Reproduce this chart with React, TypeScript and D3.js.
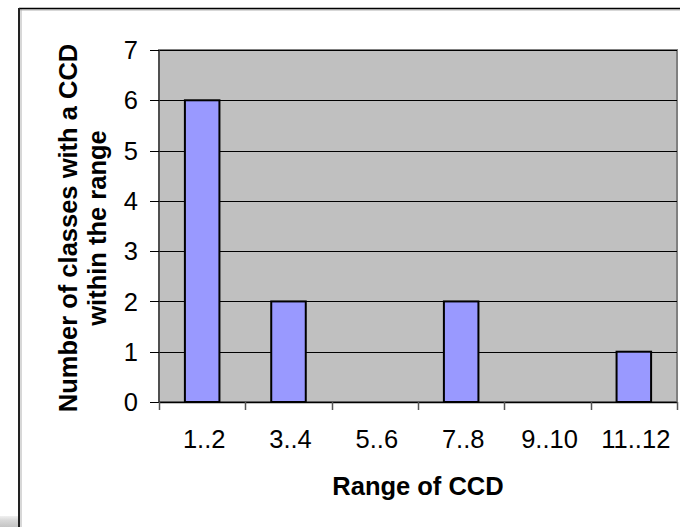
import React from "react";
import * as d3 from "d3";

const categories = ["1..2", "3..4", "5..6", "7..8", "9..10", "11..12"];
const counts = [6, 2, 0, 2, 0, 1];
const yTicks = [0, 1, 2, 3, 4, 5, 6, 7];
const xTitle = "Range of CCD";
const yTitleLines = ["Number of classes with a CCD", "within the range"];

const W = 680;
const H = 527;
const plot = { left: 159, right: 677, top: 50, bottom: 402 };
const FONT = "'Liberation Sans', Arial, Helvetica, sans-serif";

export default function App() {
  const x = d3
    .scaleBand<string>()
    .domain(categories)
    .range([plot.left, plot.right])
    .padding(0);
  const y = d3.scaleLinear().domain([0, 7]).range([plot.bottom, plot.top]);
  const bw = x.bandwidth();
  const barW = bw * 0.4;
  const data = categories.map((c, i) => ({ c, v: counts[i] }));
  const boundaries = categories.map((c) => x(c) as number).concat([plot.right]);

  return (
    <svg
      width={W}
      height={H}
      style={{ position: "absolute", left: 0, top: 0, background: "#fff" }}
      fontFamily={FONT}
    >
      <defs>
        <linearGradient id="strip" x1="0" y1="0" x2="0" y2="1">
          <stop offset="0" stopColor="#f0f0f0" />
          <stop offset="0.4" stopColor="#d8d8d8" />
          <stop offset="1" stopColor="#c4c4c4" />
        </linearGradient>
      </defs>
      <rect x={0} y={0} width={W} height={H} fill="#fff" />
      {/* bottom-left strip */}
      <rect x={0} y={516} width={18} height={11} fill="url(#strip)" />
      {/* outer frame */}
      <line x1={20} y1={10} x2={W} y2={10} stroke="#b0b0b0" strokeWidth={1} />
      <line x1={21} y1={9} x2={21} y2={H} stroke="#b0b0b0" strokeWidth={1} />
      <line x1={19} y1={8.5} x2={W} y2={8.5} stroke="#000" strokeWidth={1.5} />
      <line x1={19} y1={8} x2={19} y2={H} stroke="#222" strokeWidth={2} />

      {/* plot area */}
      <rect
        x={plot.left}
        y={plot.top}
        width={plot.right - plot.left}
        height={plot.bottom - plot.top}
        fill="#c0c0c0"
        stroke="#808080"
        strokeWidth={2}
      />
      {/* gridlines */}
      {yTicks
        .filter((t) => t > 0)
        .map((t) => (
          <line
            key={"g" + t}
            x1={plot.left}
            x2={plot.right}
            y1={Math.round(y(t)) + 0.5}
            y2={Math.round(y(t)) + 0.5}
            stroke="#000"
            strokeWidth={1}
          />
        ))}
      {/* bars */}
      {data
        .filter((d) => d.v > 0)
        .map((d) => (
          <rect
            key={d.c}
            x={(x(d.c) as number) + (bw - barW) / 2}
            y={y(d.v)}
            width={barW}
            height={y(0) - y(d.v)}
            fill="#9999ff"
            stroke="#000"
            strokeWidth={2}
          />
        ))}
      {/* axes */}
      <line x1={plot.left} x2={plot.left} y1={plot.top} y2={plot.bottom} stroke="#404040" strokeWidth={1.5} />
      <line x1={plot.left} x2={plot.right} y1={plot.bottom + 0.5} y2={plot.bottom + 0.5} stroke="#000" strokeWidth={1.5} />
      {yTicks.map((t) => (
        <g key={"yt" + t}>
          <line
            x1={plot.left - 9}
            x2={plot.left}
            y1={Math.round(y(t)) + 0.5}
            y2={Math.round(y(t)) + 0.5}
            stroke="#000"
            strokeWidth={1}
          />
          <text
            x={138}
            y={y(t)}
            dy="0.36em"
            textAnchor="end"
            fontSize={25.5}
            fill="#000"
          >
            {t}
          </text>
        </g>
      ))}
      {boundaries.map((b, i) => (
        <line
          key={"xt" + i}
          x1={Math.round(b) + 0.5}
          x2={Math.round(b) + 0.5}
          y1={plot.bottom}
          y2={plot.bottom + 8}
          stroke="#555"
          strokeWidth={1.5}
        />
      ))}
      {categories.map((c) => (
        <text
          key={"xl" + c}
          x={(x(c) as number) + bw / 2 + 2}
          y={448}
          textAnchor="middle"
          fontSize={25.5}
          fill="#000"
        >
          {c}
        </text>
      ))}
      {/* titles */}
      <text
        x={(plot.left + plot.right) / 2}
        y={495}
        textAnchor="middle"
        fontSize={25.5}
        fontWeight="bold"
        fill="#000"
      >
        {xTitle}
      </text>
      {yTitleLines.map((line, i) => (
        <text
          key={"yl" + i}
          transform={`translate(${77 + i * 29},228) rotate(-90)`}
          textAnchor="middle"
          fontSize={25.5}
          fontWeight="bold"
          fill="#000"
        >
          {line}
        </text>
      ))}
    </svg>
  );
}
